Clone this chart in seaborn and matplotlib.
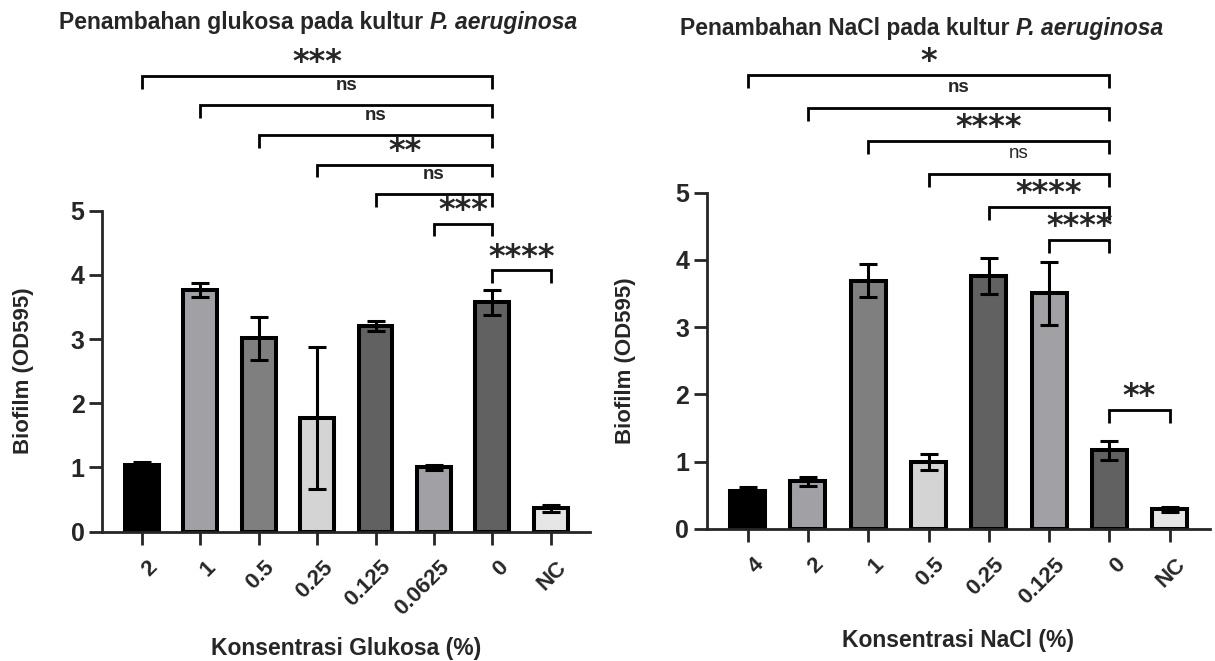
import numpy as np
import pandas as pd
import matplotlib
matplotlib.use("Agg")
import matplotlib.pyplot as plt
import matplotlib.transforms as mtransforms
import seaborn as sns

# glucose panel, values (mean, SD of OD595)
glu_labels = ['2', '1', '0.5', '0.25', '0.125', '0.0625', '0', 'NC']
glu_mean = [1.04, 3.76, 3.01, 1.77, 3.20, 1.00, 3.57, 0.36]
glu_sd = [0.04, 0.11, 0.33, 1.11, 0.08, 0.04, 0.19, 0.05]
glu_sig = ['***', 'ns', 'ns', '**', 'ns', '***']   # each vs '0', outermost first
glu_sig_nc = '****'                                  # '0' vs 'NC'

# NaCl panel
nacl_labels = ['4', '2', '1', '0.5', '0.25', '0.125', '0', 'NC']
nacl_mean = [0.57, 0.71, 3.69, 1.00, 3.76, 3.50, 1.17, 0.29]
nacl_sd = [0.06, 0.07, 0.25, 0.12, 0.27, 0.47, 0.14, 0.04]
nacl_sig = ['*', 'ns', '****', 'ns', '****', '****']
nacl_sig_nc = '**'

bar_colors = ['#000000', '#a0a0a5', '#7f7f7f', '#d4d4d4',
              '#616161', '#a0a0a5', '#616161', '#e6e6e6']

sns.set_style("ticks")
plt.rcParams['font.family'] = ['Liberation Sans', 'DejaVu Sans']
plt.rcParams['axes.linewidth'] = 2.0


def draw_panel(ax, labels, mean, sd):
    df = pd.DataFrame({'conc': labels, 'od': mean})
    sns.barplot(data=df, x='conc', y='od', hue='conc', order=labels,
                palette=bar_colors, legend=False, saturation=1,
                width=0.58, edgecolor='black', linewidth=2.9, ax=ax)
    ax.errorbar(np.arange(len(labels)), mean, yerr=sd, fmt='none',
                ecolor='black', elinewidth=2.2, capsize=6.5, capthick=2.2,
                zorder=5)
    ax.set_xlim(-0.68, len(labels) - 0.33)
    ax.set_ylim(0, 5)
    ax.set_yticks(range(6))
    sns.despine(ax=ax)
    ax.spines['left'].set_bounds(0, 5)
    ax.tick_params(axis='both', length=9.5, width=2.0, pad=3)
    ax.set_xlabel('')
    ax.set_ylabel('')
    for t in ax.get_yticklabels():
        t.set_fontsize(18)
        t.set_fontweight('bold')
    # rotated tick labels, nudged so the end of each sits at its tick
    shift = mtransforms.ScaledTranslation(9 / 72, -11 / 72, ax.figure.dpi_scale_trans)
    ax.set_xticks(range(len(labels)))
    ax.set_xticklabels(labels, rotation=45, ha='right', va='center',
                       rotation_mode='anchor', fontsize=16, fontweight='bold')
    for t in ax.get_xticklabels():
        t.set_transform(t.get_transform() + shift)


def bracket(ax, x1, x2, y, text, leg=0.2, light=False):
    ax.plot([x1, x1, x2, x2], [y - leg, y, y, y - leg], color='black',
            lw=2.0, clip_on=False, solid_capstyle='butt', solid_joinstyle='miter')
    if text == 'ns':
        ax.annotate(text, xy=((x1 + x2) / 2, y), xytext=(0, 11),
                    textcoords='offset points', ha='center', va='baseline',
                    fontsize=13.5, fontweight='normal' if light else 'bold',
                    annotation_clip=False)
    else:
        ax.annotate(text, xy=((x1 + x2) / 2, y), xytext=(0, 3.5),
                    textcoords='offset points', ha='center', va='baseline',
                    fontsize=23, fontweight='bold', family='DejaVu Sans',
                    annotation_clip=False)


def two_part_title(fig, xc, yc, plain, italic):
    t1 = fig.text(0, yc, plain, fontsize=16.5, fontweight='bold', va='center')
    t2 = fig.text(0, yc, italic, fontsize=16.5, fontweight='bold',
                  fontstyle='italic', va='center')
    r = fig.canvas.get_renderer()
    w1 = t1.get_window_extent(r).width / fig.bbox.width
    w2 = t2.get_window_extent(r).width / fig.bbox.width
    x0 = xc - (w1 + w2) / 2
    t1.set_x(x0)
    t2.set_x(x0 + w1)


fig = plt.figure(figsize=(12.15, 6.61), dpi=100)
ax1 = fig.add_axes([102 / 1215, 1 - 531.5 / 661, 488 / 1215, 320.8 / 661])
ax2 = fig.add_axes([706.7 / 1215, 1 - 529 / 661, 503.3 / 1215, 336.5 / 661])

draw_panel(ax1, glu_labels, glu_mean, glu_sd)
draw_panel(ax2, nacl_labels, nacl_mean, nacl_sd)

# significance brackets, each comparison against the '0' bar (index 6)
for i, s in enumerate(glu_sig):
    bracket(ax1, i, 6, 4.80 + 0.46 * (5 - i), s)
bracket(ax1, 6, 7, 4.07, glu_sig_nc)

for i, s in enumerate(nacl_sig):
    bracket(ax2, i, 6, 4.30 + 0.49 * (5 - i), s, light=(i == 3))
bracket(ax2, 6, 7, 1.77, nacl_sig_nc)

fig.text(24 / 1215, 1 - 371 / 661, 'Biofilm (OD595)', rotation=90,
         fontsize=16, fontweight='bold', ha='center', va='center')
fig.text(625 / 1215, 1 - 361 / 661, 'Biofilm (OD595)', rotation=90,
         fontsize=16, fontweight='bold', ha='center', va='center')
fig.text(346 / 1215, 1 - 648 / 661, 'Konsentrasi Glukosa (%)',
         fontsize=16.5, fontweight='bold', ha='center', va='center')
fig.text(958 / 1215, 1 - 640 / 661, 'Konsentrasi NaCl (%)',
         fontsize=16.5, fontweight='bold', ha='center', va='center')

two_part_title(fig, 318 / 1215, 1 - 22 / 661, 'Penambahan glukosa pada kultur ', 'P. aeruginosa')
two_part_title(fig, 922 / 1215, 1 - 28 / 661, 'Penambahan NaCl pada kultur ', 'P. aeruginosa')

fig.savefig('out.png', dpi=100)
